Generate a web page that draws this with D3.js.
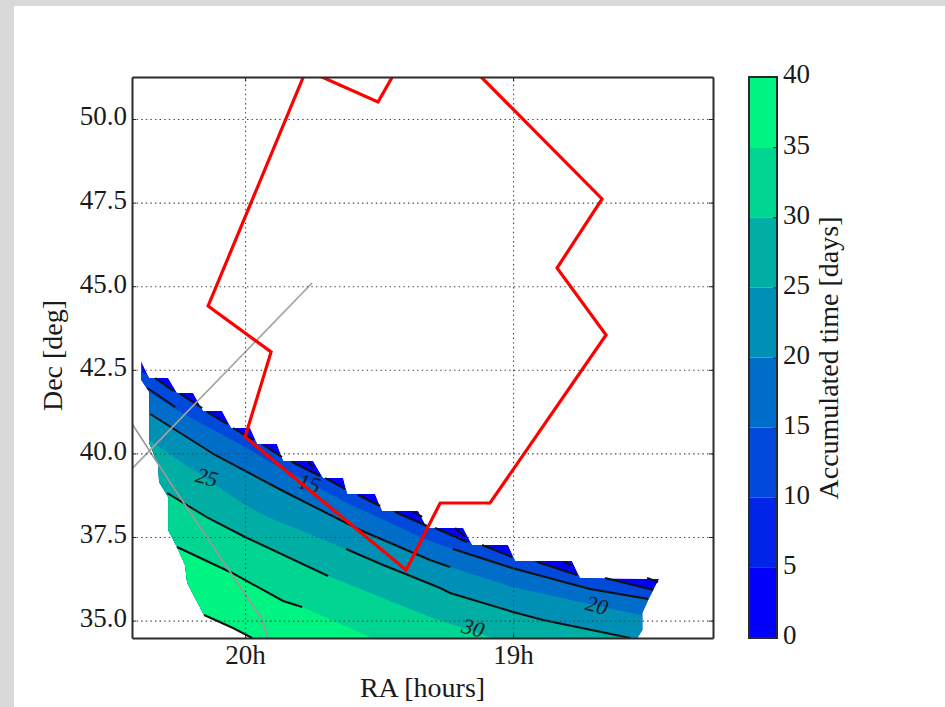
<!DOCTYPE html>
<html>
<head>
<meta charset="utf-8">
<script src="https://cdn.jsdelivr.net/npm/d3@7"></script>
<style>
  html, body { margin: 0; padding: 0; background: #fff; }
  svg { display: block; }
  text { font-family: "Liberation Serif", serif; fill: #1a1a1a; }
  .axis path { stroke: #2a2a2a; stroke-width: 2; }
  .axis line { stroke: #222; stroke-width: 1; }
  .axis text { font-size: 27px; font-family: "Liberation Serif", serif; fill: #1a1a1a; }
  .grid path { display: none; }
  .grid line { stroke: #444; stroke-width: 1.1; stroke-dasharray: 1.4,3.2; }
  .grid text { display: none; }
</style>
</head>
<body>
<div id="chart"></div>
<script>
const raTicks = [20, 19];
const decTicks = [35, 37.5, 40, 42.5, 45, 47.5, 50];
const barTicks = [0, 5, 10, 15, 20, 25, 30, 35, 40];
const levelColors = ["#0000fb", "#0024e8", "#0049db", "#006dc8", "#0090b6", "#00aea4", "#00d592", "#00f482"];

// outline of the covered sky [ra, dec], staircase on the north side
const footprint = [
  [20.388,42.76],[20.358,42.255],[20.287,42.255],[20.254,41.806],[20.194,41.806],[20.157,41.268],
  [20.086,41.268],[20.052,40.76],[19.981,40.76],[19.955,40.281],[19.881,40.281],[19.858,39.773],
  [19.746,39.773],[19.709,39.264],[19.634,39.264],[19.619,38.786],[19.515,38.786],[19.489,38.278],
  [19.354,38.278],[19.321,37.77],[19.186,37.77],[19.153,37.261],[19.019,37.261],[18.992,36.783],
  [18.78,36.783],[18.75,36.274],[18.455,36.244],[18.496,35.616],[18.518,35.227],[18.518,34.719],
  [18.537,34.48],[19.974,34.48],[20.045,34.779],[20.153,35.168],[20.216,36.125],[20.224,36.663],
  [20.254,37.201],[20.287,37.71],[20.287,38.697],[20.321,39.145],[20.324,39.654],[20.358,40.311],
  [20.358,41.837],[20.388,42.195]
];

// filled band edges, one per level, running east to west
const band10 = [[20.41,42.524],[20.336,42.255],[20.268,41.866],[20.242,41.777],[20.16,41.358],[20.142,41.238],[20.067,40.879],[20.045,40.76],[19.97,40.401],[19.933,40.251],[19.862,39.892],[19.825,39.743],[19.72,39.324],[19.701,39.264],[19.627,38.936],[19.578,38.756],[19.496,38.427],[19.44,38.248],[19.321,37.829],[19.291,37.77],[19.172,37.351],[19.116,37.261],[19.004,36.902],[18.91,36.753],[18.761,36.364],[18.657,36.274],[18.477,35.916],[18.414,35.856]];
const band15 = [[20.392,42.016],[20.354,41.806],[20.242,41.238],[20,40.192],[19.907,39.743],[19.619,38.517],[19.321,37.411],[19.224,37.142],[19.004,36.573],[18.713,35.945],[18.496,35.646],[18.433,35.527]];
const band20 = [[20.392,41.358],[20.354,41.179],[20.112,39.953],[19.851,38.846],[19.571,37.71],[19.31,36.813],[19.235,36.603],[19.004,36.005],[18.526,35.168],[18.414,35.019]];
const band25 = [[20.392,40.64],[20.358,40.401],[20.112,39.055],[20,38.457],[19.907,38.069],[19.623,37.142],[19.485,36.663],[19.41,36.424],[19.272,35.975],[19.235,35.826],[19,35.258],[18.888,35.019],[18.563,34.48],[18.414,34.3]];
const band30 = [[20.354,39.205],[20.291,38.816],[20.138,38.069],[20,37.5],[19.69,36.334],[19.31,35.108],[19.074,34.48],[19.048,34.271]];
const band35 = [[20.298,37.411],[20.254,37.201],[20.048,36.424],[19.858,35.587],[19.787,35.407],[19.526,34.48],[19.496,34.271]];
const bands = [band10, band15, band20, band25, band30, band35];

// black contour lines, broken where the original has gaps
const contourLines = [
  [[20.336,42.255],[20.268,41.866]], [[20.242,41.777],[20.16,41.358]], [[20.142,41.238],[20.067,40.879]],
  [[20.045,40.76],[19.97,40.401]], [[19.933,40.251],[19.862,39.892]], [[19.825,39.743],[19.72,39.324]],
  [[19.701,39.264],[19.627,38.936]], [[19.578,38.756],[19.496,38.427]], [[19.44,38.248],[19.321,37.829]],
  [[19.291,37.77],[19.172,37.351]], [[19.116,37.261],[19.004,36.902]], [[18.91,36.753],[18.761,36.364]],
  [[18.657,36.274],[18.477,35.916]],
  [[19.216,37.77],[19.179,37.5]], [[19.373,38.248],[19.339,38.099]], [[18.813,36.753],[18.78,36.663]],
  [[18.5,36.274],[18.459,36.155]], [[19.765,39.743],[19.746,39.594]],
  [[20.365,41.956],[20.261,41.388]],
  [[19.224,37.142],[19.004,36.573],[18.713,35.945],[18.496,35.646]],
  [[20.354,41.179],[20.112,39.953],[19.851,38.846],[19.571,37.71],[19.31,36.813],[19.235,36.603]],
  [[19.623,37.142],[19.485,36.663],[19.41,36.424],[19.272,35.975],[19.235,35.826],[19,35.258],[18.888,35.019],[18.563,34.48]],
  [[20.291,38.816],[20.138,38.069],[20,37.5],[19.69,36.334]],
  [[20.254,37.201],[20.048,36.424],[19.858,35.587],[19.787,35.407]],
  [[20.153,35.168],[20.045,34.779],[19.974,34.48]]
];

const contourLabels = ["15", "20", "25", "30"];
const labelRa = [19.76, 18.687, 20.142, 19.149];
const labelDec = [39.115, 35.467, 39.295, 34.79];

// red field of view, the top goes past the frame
const redField = [
  [19.772,51.465],[20.138,44.408],[19.903,43.033],[20,40.491],[19.399,36.513],[19.272,38.517],[19.086,38.517],
  [18.653,43.541],[18.836,45.544],[18.668,47.608],[19.145,51.465],[19.436,51.465],[19.504,50.508]
];
const grayLineA = [[20.466,39.175],[19.75,45.096]];
const grayLineB = [[20.448,41.208],[20.261,38.906],[19.94,35.078],[19.899,34.121]];

const width = 945,
    height = 707,
    margin = ({ top: 77, right: 232, bottom: 69, left: 132 });

const svg = d3.select("#chart")
    .append("svg")
    .attr("width", width)
    .attr("height", height)
    .attr("viewBox", [0, 0, width, height]);

// grey page edge of the screenshot
svg.append("rect").attr("width", width).attr("height", height).attr("fill", "#d9d9d9");
svg.append("rect").attr("x", 14).attr("y", 6).attr("width", width - 14).attr("height", height - 6).attr("fill", "#fff");

const x = d3.scaleLinear()
    .domain([20.422, 18.254])
    .range([margin.left, width - margin.right]);

const y = d3.scaleLinear()
    .domain([34.48, 51.256])
    .range([height - margin.bottom, margin.top]);

const line = d3.line().x(d => x(d[0])).y(d => y(d[1]));

const defs = svg.append("defs");
defs.append("clipPath").attr("id", "plot-clip")
  .append("rect")
    .attr("x", margin.left).attr("y", margin.top)
    .attr("width", width - margin.left - margin.right)
    .attr("height", height - margin.top - margin.bottom);
defs.append("clipPath").attr("id", "foot-clip")
  .append("path")
    .attr("d", line(footprint) + "Z");

const plot = svg.append("g").attr("clip-path", "url(#plot-clip)");
const fills = plot.append("g").attr("clip-path", "url(#foot-clip)");

fills.append("path")
    .attr("d", line(footprint) + "Z")
    .attr("fill", levelColors[0]);

// each band paints everything south-east of its edge
bands.forEach((edge, i) => {
  const closed = edge.concat([[x.domain()[1], y.domain()[0] - 1], [x.domain()[0] + 0.1, y.domain()[0] - 1], [x.domain()[0] + 0.1, edge[0][1]]]);
  fills.append("path")
      .attr("d", line(closed) + "Z")
      .attr("fill", levelColors[i + 2]);
});

plot.selectAll(".contour")
  .data(contourLines)
  .join("path")
    .attr("class", "contour")
    .attr("d", line)
    .attr("fill", "none")
    .attr("stroke", "#111")
    .attr("stroke-width", 2);

plot.selectAll(".clabel")
  .data(contourLabels)
  .join("text")
    .attr("class", "clabel")
    .attr("text-anchor", "middle")
    .attr("dy", "0.35em")
    .attr("transform", (d, i) => `translate(${x(labelRa[i])},${y(labelDec[i])}) rotate(15)`)
    .attr("font-size", 22)
    .attr("font-style", "italic")
    .text(d => d);

// dotted grid
svg.append("g")
    .attr("class", "grid")
    .attr("transform", `translate(0,${height - margin.bottom})`)
    .call(d3.axisBottom(x).tickValues(raTicks).tickSize(-(height - margin.top - margin.bottom)));
svg.append("g")
    .attr("class", "grid")
    .attr("transform", `translate(${margin.left},0)`)
    .call(d3.axisLeft(y).tickValues(decTicks).tickSize(-(width - margin.left - margin.right)));

plot.append("path")
    .datum(grayLineA)
    .attr("d", line)
    .attr("fill", "none")
    .attr("stroke", "#a3a3a3")
    .attr("stroke-width", 1.7);
plot.append("path")
    .datum(grayLineB)
    .attr("d", line)
    .attr("fill", "none")
    .attr("stroke", "#999")
    .attr("stroke-width", 1.7);

plot.append("path")
    .attr("d", line(redField) + "Z")
    .attr("fill", "none")
    .attr("stroke", "#f00")
    .attr("stroke-width", 3.2)
    .attr("stroke-linejoin", "miter");

// frame and inward ticks on all four sides
svg.append("g")
    .attr("class", "axis")
    .attr("transform", `translate(0,${height - margin.bottom})`)
    .call(d3.axisBottom(x).tickValues(raTicks).tickFormat(d => d + "h").tickSizeInner(-4).tickSizeOuter(0).tickPadding(7));
svg.append("g")
    .attr("class", "axis")
    .attr("transform", `translate(0,${margin.top})`)
    .call(d3.axisTop(x).tickValues(raTicks).tickFormat("").tickSizeInner(-4).tickSizeOuter(0));
svg.append("g")
    .attr("class", "axis")
    .attr("transform", `translate(${margin.left},0)`)
    .call(d3.axisLeft(y).tickValues(decTicks).tickFormat(d3.format(".1f")).tickSizeInner(-4).tickSizeOuter(0).tickPadding(5))
    .call(g => g.selectAll("text").attr("dy", "0.22em"));
svg.append("g")
    .attr("class", "axis")
    .attr("transform", `translate(${width - margin.right},0)`)
    .call(d3.axisRight(y).tickValues(decTicks).tickFormat("").tickSizeInner(-4).tickSizeOuter(0));

svg.append("text")
    .attr("text-anchor", "middle")
    .attr("x", (margin.left + width - margin.right) / 2)
    .attr("y", 697)
    .attr("font-size", 28)
    .text("RA [hours]");

svg.append("text")
    .attr("text-anchor", "middle")
    .attr("transform", `translate(62,${(margin.top + height - margin.bottom) / 2 - 2}) rotate(-90)`)
    .attr("font-size", 28)
    .text("Dec [deg]");

// discrete colour bar
const barX = 749, barW = 28;
const c = d3.scaleLinear()
    .domain([0, 40])
    .range([height - margin.bottom, margin.top]);

svg.append("g")
  .selectAll("rect")
  .data(levelColors)
  .join("rect")
    .attr("x", barX)
    .attr("width", barW)
    .attr("y", (d, i) => c(barTicks[i + 1]))
    .attr("height", (d, i) => c(barTicks[i]) - c(barTicks[i + 1]))
    .attr("fill", d => d);

svg.append("rect")
    .attr("x", barX)
    .attr("y", margin.top)
    .attr("width", barW)
    .attr("height", height - margin.top - margin.bottom)
    .attr("fill", "none")
    .attr("stroke", "#2a2a2a")
    .attr("stroke-width", 2);

svg.append("g")
    .attr("class", "axis")
    .attr("transform", `translate(${barX + barW},0)`)
    .call(d3.axisRight(c).tickValues(barTicks).tickSizeInner(-4).tickSizeOuter(0).tickPadding(6))
    .call(g => g.select(".domain").remove())
    .call(g => g.selectAll("text").attr("dy", "0.22em"));

svg.append("text")
    .attr("text-anchor", "middle")
    .attr("transform", "translate(838,358) rotate(-90)")
    .attr("font-size", 28)
    .text("Accumulated time [days]");
</script>
</body>
</html>
